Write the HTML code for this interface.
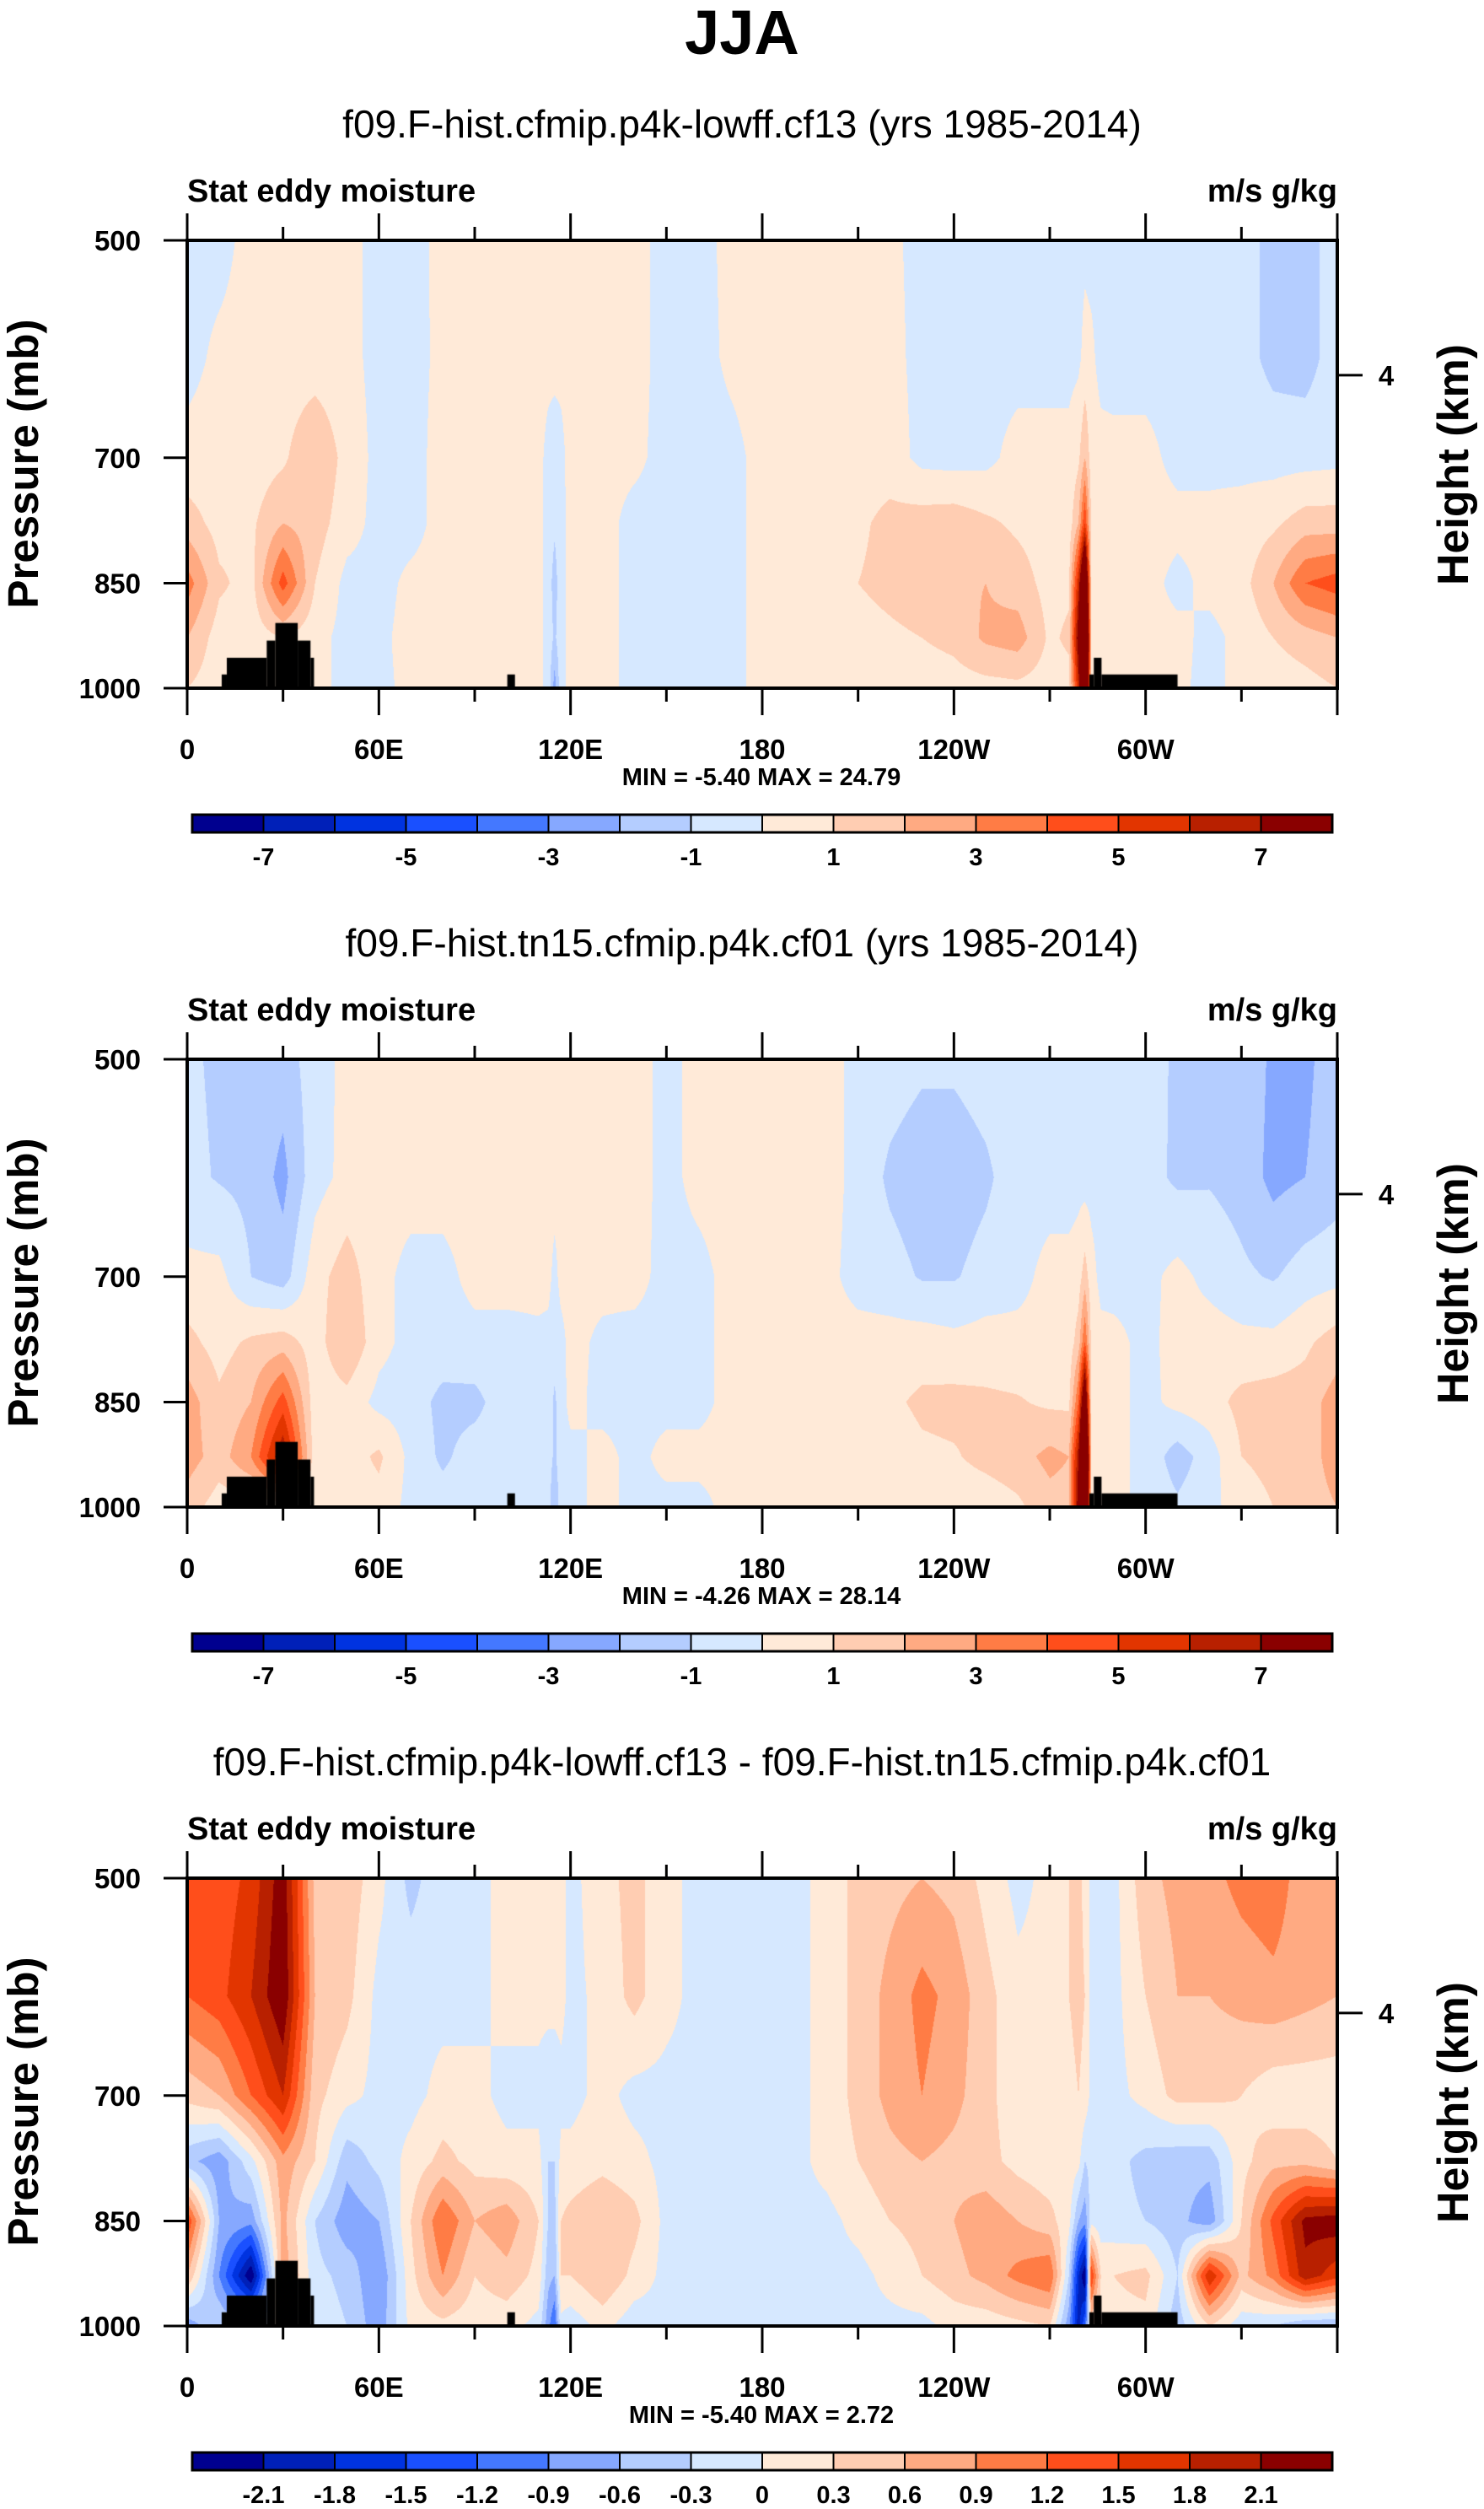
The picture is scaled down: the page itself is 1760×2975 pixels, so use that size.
<!DOCTYPE html>
<html><head><meta charset="utf-8"><style>
html,body{margin:0;padding:0;background:#fff;}
body{width:1760px;height:2975px;position:relative;overflow:hidden;font-family:"Liberation Sans",sans-serif;}
canvas{position:absolute;left:222px;}
svg{position:absolute;left:0;top:0;}
</style></head><body>
<canvas id="c0" width="1364" height="531" style="top:285px"></canvas>
<canvas id="c1" width="1364" height="531" style="top:1256px"></canvas>
<canvas id="c2" width="1364" height="531" style="top:2227px"></canvas>
<svg id="ov" width="1760" height="2975" xmlns="http://www.w3.org/2000/svg">
<text x="880" y="64" text-anchor="middle" font-family="Liberation Sans,sans-serif" font-weight="bold" font-size="74">JJA</text>
</svg>
<script>
const LONS=[0,10,20,30,40,50,60,70,80,90,100,110,113,115,117,120,130,140,150,160,170,180,190,200,210,220,230,240,250,260,270,276,279,281,283,286,290,300,310,320,330,340,350,360];
const PLEVS=[500,600,700,775,850,925,1000];
const COLORS=['#00008f','#0020b8','#0033e0','#1a50ff','#4478ff','#86a8ff','#b4cdff','#d6e8ff','#ffead8','#ffcdb2','#ffaa82','#ff7c45','#ff4e1b','#e23500','#b82000','#8a0000'];
const BOUNDS_A=[-7,-6,-5,-4,-3,-2,-1,0,1,2,3,4,5,6,7];
const BOUNDS_D=[-2.1,-1.8,-1.5,-1.2,-0.9,-0.6,-0.3,0,0.3,0.6,0.9,1.2,1.5,1.8,2.1];
const CB_LABELS_A=['-7','','-5','','-3','','-1','','1','','3','','5','','7'];
const CB_LABELS_D=['-2.1','-1.8','-1.5','-1.2','-0.9','-0.6','-0.3','0','0.3','0.6','0.9','1.2','1.5','1.8','2.1'];
const LON_TICKS=[0,30,60,90,120,150,180,210,240,270,300,330,360];
const LON_LABELS=['0','','60E','','120E','','180','','120W','','60W','',''];
const P_TICKS=[500,700,850,1000];
const P_LABELS=['500','700','850','1000'];
const H_TICKS=[616];
const H_LABELS=['4'];
const TOPO_START=[10.8,12.4,24.9,27.6,34.6,38.6,100.2,282.4,283.8,286.2];
const TOPO_END=[12.4,24.9,27.6,34.6,38.6,39.7,102.6,283.8,286.2,310];
const TOPO_TOP=[979,954,929,904,929,954,979,979,954,979];
const FIELD1=[
[-.3,-.3,.3,.4,.4,.3,-.3,-.4,.3,.4,.4, .3,.3,.3,.3, .3,.4,.3,-.3,-.4,.3,.4,.4,.4,.3,.2,-.3,-.4,-.4,-.4,-.3, -.3,-.3,-.2,-.3,-.3, -.4,-.4,-.4,-.5,-.6,-1.3,-1.4,-.5],
[-.3,.2,.3,.4,.4,.3,-.3,-.3,.2,.4,.4, .3,.3,.3,.3, .3,.4,.3,-.3,-.4,.2,.4,.4,.4,.4,.3,-.3,-.4,-.4,-.4,-.3, -.3,-.2,.3,.2,-.3, -.4,-.4,-.4,-.5,-.6,-1.3,-1.4,-.5],
[.3,.4,.4,.8,2,.6,-.3,-.3,.3,.5,.3, .3,-.3,-.5,-.3, .4,.3,.2,-.3,-.4,-.3,.3,.5,.5,.5,.5,-.3,-.4,-.3,.4,.3, .3,.8,2,.5,.3, .3,.3,-.3,-.3,-.3,-.4,-.4,-.3],
[1.5,.6,.8,2,1.5,.4,-.3,-.3,.3,.4,.3, .3,-.3,-.8,-.3, .3,.3,-.3,-.3,-.3,-.3,.3,.5,.6,.8,1.3,1.5,1.6,1.2,.8,.5, .5,2,5,.8,.4, .5,.4,.3,.3,.4,.8,1.5,1.5],
[3.5,1.2,.6,4.5,1,-.3,-.3,.2,.3,.3,.3, .3,-.4,-1.5,-.3, .3,.3,-.3,-.3,-.3,-.3,.3,.5,.7,1,1.3,1.6,1.8,2,1.5,.6, .8,6,12,1,.5, .5,.4,-.3,.3,.6,2,4,4.5],
[2,.5,.4,1,.3,-.3,-.2,.3,.3,.2,.2, .3,-.3,-1.2,-.3, .3,.3,-.3,-.3,-.3,-.3,.3,.3,.4,.6,.8,1,1.3,2.2,2.5,.8, 1.2,8,15,1,.4, .4,.3,.3,-.3,.3,1,1.5,2],
[1,.4,.3,.3,.2,-.2,-.2,.2,.3,.2,.2, .3,-.3,-2.5,-.3, .3,.3,-.3,-.3,-.3,-.3,.3,.3,.3,.3,.3,.4,.5,.6,.7,.5, .6,6,15,.5,.3, .3,.3,.2,-.3,.3,.4,.6,1]];
const FIELD2=[
[-.8,-1.2,-1.3,-1.5,-.5,.3,.4,.4,.4,.4,.4, .4,.4,.4,.4, .4,.4,.4,-.3,.3,.4,.4,.4,.4,-.3,-.5,-.8,-.8,-.5,-.4,-.4, -.4,-.5,-.8,-.5,-.4, -.4,-.5,-1.2,-1.1,-1.3,-2.2,-2.2,-1.5],
[-.7,-1.1,-1.3,-2.3,-.4,.3,.4,.4,.4,.4,.4, .4,.4,.4,.4, .4,.4,.4,-.3,.3,.4,.4,.4,.4,-.3,-1.2,-1.6,-1.6,-1.2,-.4,-.4, -.4,-.3,-.5,-.4,-.4, -.4,-.6,-1.2,-1.1,-1.4,-2.3,-2.0,-1.5],
[.3,.3,-1,-1.5,.6,1.5,.3,-.3,-.3,.3,.3, .3,.3,-.3,.3, .3,.3,.3,-.3,-.3,.3,.3,.3,.3,-.4,-.6,-1.1,-1.1,-.6,-.3,.3, .3,.5,1.5,.4,-.3, -.4,-.3,.3,-.3,-.8,-1.1,-.5,-.3],
[1.3,.6,1.2,1.5,.5,2,.3,-.3,-.4,-.3,-.3, -.2,-.3,-.5,-.3, .3,-.2,-.3,-.3,-.3,.3,.4,.4,.4,.4,.4,.5,.3,.4,.3,.3, .4,1.5,4,.8,.3, .3,-.3,.4,.5,.3,.3,.8,1.5],
[2.5,1.2,2,4.5,.4,.6,-.3,-.5,-1.3,-1.3,-.4, -.3,-.4,-1.2,-.4, .3,-.3,-.3,-.3,-.3,.3,.4,.4,.4,.4,.8,1.2,1.3,1.2,1.1,.8, .8,4,10,1,.3, .3,-.3,.3,.6,1.3,1.5,1.5,2.5],
[2.5,1.5,3,7,.4,.5,1.2,-.3,-1.2,-.5,-.4, -.3,-.5,-1.2,-.4, -.3,.3,-.3,.3,.3,.3,.4,.4,.4,.4,.4,.8,.9,1.3,1.6,2.3, 2,7,15,1,.3, .3,-.3,-1.5,-.5,1,1.3,1.5,2.5],
[1.5,.5,.3,.3,.3,.3,.6,-.3,-.5,-.3,-.3, -.3,-.5,-2,-.4, -.3,.3,-.3,-.3,-.3,.3,.4,.4,.4,.4,.4,.4,.4,.4,.8,1.6, 1.6,8,15,.5,.3, .3,-.3,-.8,-.3,.5,1,1.5,2]];
const FIELD3=[
[1.2,1.3,1.6,2.3,.5,.5,.1,-.4,-.1,-.1,.1, .1,.1,.1,.1, -.1,.2,.4,.1,-.1,-.1,-.1,-.1,.1,.4,.5,.6,.5,.2,-.1,.1, .3,.4,.2,-.1,-.1, -.1,.5,.7,.8,1.0,1.1,.7,.6],
[1.2,1.4,1.8,2.4,.6,.4,-.1,-.1,-.1,-.1,.1, .1,.1,.1,.1, -.1,.1,.4,.1,-.1,-.1,-.1,-.1,.1,.4,.7,1.0,.8,.4,.1,.1, .3,.4,.3,-.1,-.1, -.1,.3,.6,.6,.7,.8,.7,.6],
[.4,.6,1.2,1.8,.4,.1,-.1,-.1,.1,.1,-.1, -.1,-.2,-.2,-.1, -.1,.1,-.1,-.1,-.1,-.1,-.1,-.1,.1,.4,.7,.9,.7,.4,.1,.1, .2,.3,.2,-.1,-.1, -.1,.1,.4,.4,.3,.1,.1,.1],
[-.5,-.8,-.1,.8,.3,-.5,-.2,.1,.4,.2,.1, .1,-.3,-.3,.1, .1,.2,.1,-.1,-.1,-.1,-.1,-.1,.1,.3,.5,.6,.5,.4,.2,.1, .2,.1,-.3,-.2,-.2, -.2,-.4,-.5,-.5,.2,.5,.5,.3],
[1.5,-.6,-.8,.7,-.3,-.8,-.6,.3,1.2,.6,.8, .3,-.3,-.4,.3, .4,.6,.4,-.1,-.1,-.1,-.1,-.1,-.1,.1,.3,.4,.6,.8,.6,.4, .1,-.6,-.8,-.1,-.2, -.2,-.3,-.5,-.8,.3,1.3,2.2,2.3],
[.6,-.9,-2.4,.8,-.2,-.4,-.9,.2,.9,.3,.5, .2,-.5,-.6,.3, .3,.6,.2,-.1,-.1,-.1,-.1,-.1,-.1,-.1,.1,.3,.5,.7,1.0,1.2, -.3,-1.8,-2.4,1.5,.3, .3,.4,-.3,1.8,.5,1.0,2.0,1.6],
[-.8,-.3,-.5,.3,-.1,-.3,-.8,.1,.2,.1,.1, -.1,-.8,-1.2,-.1, -.2,.1,-.2,-.1,-.1,-.1,-.1,-.1,-.1,-.1,-.1,-.1,.1,.1,.2,.3, -.8,-2,-1.2,.3,.1, .2,.2,-.5,.3,-.2,-.3,-.6,-.6]];
const SUBTITLES=['f09.F-hist.cfmip.p4k-lowff.cf13 (yrs 1985-2014)','f09.F-hist.tn15.cfmip.p4k.cf01 (yrs 1985-2014)','f09.F-hist.cfmip.p4k-lowff.cf13 - f09.F-hist.tn15.cfmip.p4k.cf01'];
const MINMAX=['MIN =  -5.40  MAX =  24.79','MIN =  -4.26  MAX =  28.14','MIN =  -5.40  MAX =  2.72'];

const X0=222,PW=1364,PH=531,TOPS=[285,1256,2227];
function xOf(lon){return X0+lon/360*PW;}
function yFrac(p){return Math.log(p/500)/Math.log(2);}
const NS='http://www.w3.org/2000/svg';
const ov=document.getElementById('ov');
function mk(tag,attrs){const e=document.createElementNS(NS,tag);for(const k in attrs)e.setAttribute(k,attrs[k]);ov.appendChild(e);return e;}
function txt(x,y,s,size,bold,anchor,extra){const t=mk('text',Object.assign({x:x,y:y,'font-family':'Liberation Sans,sans-serif','font-size':size,'font-weight':bold?'bold':'normal','text-anchor':anchor||'middle'},extra||{}));t.textContent=s;return t;}

function drawField(cv,grid,bounds){
  const ctx=cv.getContext('2d');const img=ctx.createImageData(PW,PH);const d=img.data;
  const rgb=COLORS.map(c=>[parseInt(c.substr(1,2),16),parseInt(c.substr(3,2),16),parseInt(c.substr(5,2),16)]);
  const lp=PLEVS.map(p=>Math.log(p));
  for(let py=0;py<PH;py++){
    const p=500*Math.pow(2,(py+0.5)/PH);const l=Math.log(p);
    let k=0;while(k<PLEVS.length-2&&l>lp[k+1])k++;
    const t=Math.min(1,Math.max(0,(l-lp[k])/(lp[k+1]-lp[k])));
    for(let px=0;px<PW;px++){
      const lon=(px+0.5)/PW*360;
      let i=0;while(i<LONS.length-2&&lon>LONS[i+1])i++;
      const u=(lon-LONS[i])/(LONS[i+1]-LONS[i]);
      const v=(grid[k][i]*(1-u)+grid[k][i+1]*u)*(1-t)+(grid[k+1][i]*(1-u)+grid[k+1][i+1]*u)*t;
      let lev=0;while(lev<bounds.length&&v>=bounds[lev])lev++;
      const c=rgb[lev];const o=(py*PW+px)*4;d[o]=c[0];d[o+1]=c[1];d[o+2]=c[2];d[o+3]=255;
    }
  }
  ctx.putImageData(img,0,0);
  ctx.fillStyle='#000';
  for(let j=0;j<TOPO_START.length;j++){
    const xa=TOPO_START[j]/360*PW,xb=TOPO_END[j]/360*PW,ya=yFrac(TOPO_TOP[j])*PH;
    ctx.fillRect(xa,ya,xb-xa,PH-ya);
  }
}
const fields=[FIELD1,FIELD2,FIELD3];
const bnds=[BOUNDS_A,BOUNDS_A,BOUNDS_D];
const cbl=[CB_LABELS_A,CB_LABELS_A,CB_LABELS_D];
for(let n=0;n<3;n++){
  drawField(document.getElementById('c'+n),fields[n],bnds[n]);
  const T=TOPS[n];
  const st=txt(880,T-122,SUBTITLES[n],46,false,'middle');
  
  
  const ls=txt(X0,T-46,'Stat eddy moisture',38,true,'start');
  
  
  const rs=txt(X0+PW,T-46,'m/s g/kg',38,true,'end');
  
  
  const fr=mk('rect',{x:X0,y:T,width:PW,height:PH,fill:'none',stroke:'#000','stroke-width':4});
  
  
  LON_TICKS.forEach((lon,i)=>{
    const major=(lon%60===0);const L=major?32:16;const x=xOf(lon);
    const t1=mk('line',{x1:x,x2:x,y1:T-L,y2:T,stroke:'#000','stroke-width':3});
    
    
    const t2=mk('line',{x1:x,x2:x,y1:T+PH,y2:T+PH+L,stroke:'#000','stroke-width':3});
    
    
    if(LON_LABELS[i]){const lb=txt(x,T+PH+84,LON_LABELS[i],33,true,'middle');
      
      }
  });
  P_TICKS.forEach((p,i)=>{
    const y=T+yFrac(p)*PH;
    const tk=mk('line',{x1:X0-28,x2:X0,y1:y,y2:y,stroke:'#000','stroke-width':3});
    
    
    const lb=txt(X0-55,y+12,P_LABELS[i],33,true,'end');
    
    
  });
  H_TICKS.forEach((p,i)=>{
    const y=T+yFrac(p)*PH;
    const tk=mk('line',{x1:X0+PW,x2:X0+PW+30,y1:y,y2:y,stroke:'#000','stroke-width':3});
    
    
    const lb=txt(X0+PW+58,y+12,H_LABELS[i],33,true,'middle');
    
    
  });
  const yt=txt(0,0,'Pressure (mb)',51,true,'middle',{transform:'translate(45,'+(T+265)+') rotate(-90)'});
  
  
  const ht=txt(0,0,'Height (km)',52,true,'middle',{transform:'translate(1741,'+(T+266)+') rotate(-90)'});
  
  
  const mm=txt(903,T+646,MINMAX[n],29,true,'middle');
  
  
  const cbY=T+681,cbX=228,cbW=1352,bw=cbW/COLORS.length;
  COLORS.forEach((c,i)=>{
    const r=mk('rect',{x:cbX+i*bw,y:cbY,width:bw,height:21,fill:c,stroke:'#000','stroke-width':2});
    
    
  });
  const cf=mk('rect',{x:cbX,y:cbY,width:cbW,height:21,fill:'none',stroke:'#000','stroke-width':3});
  
  
  cbl[n].forEach((s,i)=>{
    if(!s)return;
    const lb=txt(cbX+(i+1)*bw,cbY+60,s,29,true,'middle');
    
    
  });
}
</script>
</body></html>
